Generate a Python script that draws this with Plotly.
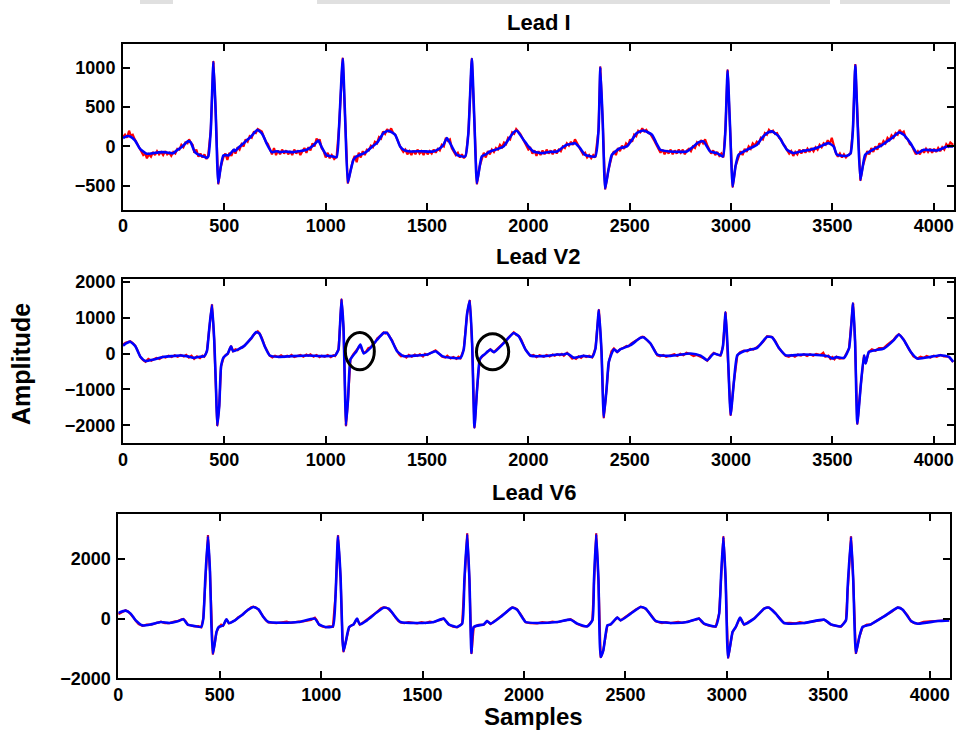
import plotly.graph_objects as go

W, H = 959, 731

# ---------------- data (sample index, amplitude) ----------------
LEAD_I_BLUE = [(0,106),(18,130),(35,127),(59,76),(84,-30),(117,-93),(150,-85),(175,-75),(199,-72),(225,-80),(248,-85),
 (270,-40),(290,-8),(310,45),(322,68),(334,51),(355,-72),(380,-114),(400,-130),(413,-144),(421,-127),(433,203),(446,1075),
 (457,458),(470,-466),(482,-263),(495,-114),(510,-110),(520,-114),(536,-72),(548,-40),(552,-60),(569,-17),(590,30),(610,76),
 (630,120),(643,161),(663,210),(684,169),(700,90),(709,34),(734,-72),(760,-60),(775,-72),(800,-65),(841,-72),(870,-60),
 (906,-42),(939,13),(964,75),(980,-8),(1005,-114),(1030,-125),(1054,-136),(1066,246),(1084,1112),(1097,288),(1109,-458),
 (1123,-305),(1137,-170),(1150,-130),(1170,-106),(1185,-90),(1203,-64),(1230,0),(1252,42),(1270,110),(1285,170),(1310,199),
 (1343,148),(1367,0),(1390,-50),(1417,-64),(1470,-60),(1532,-64),(1565,-20),(1581,21),(1598,106),(1610,60),(1622,0),
 (1647,-106),(1688,-127),(1704,170),(1721,1112),(1734,300),(1746,-466),(1760,-250),(1770,-127),(1790,-100),(1811,-64),
 (1840,-40),(1877,0),(1910,120),(1927,178),(1943,199),(1976,85),(2000,0),(2025,-64),(2067,-85),(2100,-70),(2141,-64),
 (2170,-10),(2190,21),(2210,30),(2231,42),(2255,-21),(2280,-106),(2330,-127),(2346,200),(2355,1005),(2367,300),(2379,-534),
 (2395,-300),(2412,-106),(2453,-21),(2486,0),(2510,80),(2535,170),(2568,203),(2610,148),(2630,50),(2651,-42),(2700,-64),
 (2782,-64),(2810,-10),(2839,51),(2864,64),(2897,-64),(2930,-85),(2960,-127),(2972,200),(2983,962),(2995,250),(3008,-509),
 (3022,-250),(3037,-106),(3079,-42),(3128,21),(3150,100),(3177,170),(3202,191),(3235,127),(3276,-42),(3309,-85),(3350,-60),
 (3391,-42),(3440,0),(3481,42),(3506,0),(3523,-106),(3572,-119),(3590,-85),(3601,200),(3613,1030),(3625,250),(3638,-424),
 (3650,-250),(3662,-106),(3704,-34),(3740,10),(3770,64),(3800,120),(3827,178),(3852,148),(3885,42),(3918,-85),(3951,-42),
 (4017,-51),(4066,0),(4096,0)]

LEAD_I_RED = [(0,120),(10,150),(20,110),(30,200),(38,140),(48,150),(58,90),(70,40),(80,-10),(90,-60),(100,-110),(110,-90),
 (118,-150),(128,-100),(138,-130),(148,-70),(158,-110),(168,-60),(178,-100),(188,-70),(198,-110),(208,-60),(218,-100),
 (228,-80),(238,-120),(248,-70),(258,-90),(268,-30),(278,-40),(288,20),(298,-10),(308,50),(318,40),(326,90),(334,50),
 (344,20),(352,-80),(362,-40),(372,-130),(382,-90),(392,-140),(402,-100),(412,-160),(420,-120),(433,203),(446,1085),
 (457,458),(470,-480),(482,-263),(495,-140),(505,-90),(515,-170),(525,-80),(535,-120),(545,-40),(555,-90),(565,-10),
 (575,-40),(585,30),(595,0),(605,90),(615,60),(625,130),(635,110),(645,180),(655,170),(665,220),(675,200),(685,190),
 (695,120),(705,60),(715,30),(725,-40),(735,-100),(745,-20),(755,-110),(765,-50),(775,-100),(785,-40),(795,-90),(805,-50),
 (815,-100),(825,-60),(835,-110),(845,-40),(855,-90),(865,-50),(875,-110),(885,-60),(895,-20),(905,-80),(915,-10),
 (925,-50),(935,40),(945,0),(955,100),(962,60),(970,90),(980,-20),(990,-60),(1000,-140),(1010,-80),(1020,-150),(1030,-110),
 (1042,-160),(1054,-130),(1066,246),(1084,1125),(1097,288),(1109,-470),(1123,-305),(1133,-190),(1143,-120),(1153,-200),
 (1163,-80),(1173,-140),(1183,-60),(1193,-110),(1203,-40),(1213,-50),(1223,10),(1233,-10),(1243,60),(1253,40),(1263,120),
 (1273,100),(1283,190),(1293,160),(1303,220),(1313,180),(1323,230),(1333,170),(1343,150),(1353,90),(1363,20),(1373,-30),
 (1383,-70),(1393,-40),(1403,-100),(1413,-60),(1423,-110),(1433,-50),(1443,-100),(1453,-40),(1463,-90),(1473,-60),
 (1483,-110),(1493,-50),(1503,-100),(1513,-60),(1523,-90),(1533,-40),(1543,-80),(1553,-30),(1563,-50),(1573,20),(1583,0),
 (1593,110),(1603,70),(1613,90),(1622,-20),(1632,-60),(1642,-110),(1652,-80),(1662,-140),(1672,-100),(1682,-150),
 (1692,-110),(1704,170),(1721,1120),(1734,300),(1746,-480),(1760,-250),(1770,-150),(1780,-80),(1790,-140),(1800,-60),
 (1810,-100),(1820,-40),(1830,-70),(1840,-20),(1850,-40),(1860,20),(1870,-10),(1880,50),(1890,30),(1900,110),(1910,90),
 (1920,180),(1930,160),(1940,220),(1950,190),(1960,160),(1970,110),(1980,60),(1990,20),(2000,-40),(2010,-20),(2020,-90),
 (2030,-50),(2040,-120),(2050,-60),(2060,-110),(2070,-50),(2080,-100),(2090,-40),(2100,-90),(2110,-50),(2120,-100),
 (2130,-40),(2140,-90),(2150,-40),(2160,-60),(2170,0),(2180,-20),(2190,40),(2200,10),(2210,60),(2220,20),(2230,90),
 (2240,40),(2250,10),(2260,-60),(2270,-100),(2280,-80),(2290,-140),(2300,-110),(2310,-150),(2320,-110),(2330,-140),
 (2346,200),(2355,1015),(2367,300),(2379,-545),(2395,-300),(2412,-120),(2422,-60),(2432,-110),(2442,-20),(2452,-60),
 (2462,10),(2472,-30),(2482,40),(2492,10),(2502,90),(2512,60),(2522,150),(2532,130),(2542,200),(2552,180),(2562,230),
 (2572,190),(2582,210),(2592,170),(2602,160),(2612,120),(2622,70),(2632,20),(2642,-30),(2652,-80),(2662,-40),(2672,-100),
 (2682,-50),(2692,-90),(2702,-40),(2712,-100),(2722,-50),(2732,-90),(2742,-40),(2752,-80),(2762,-40),(2772,-100),
 (2782,-50),(2792,-30),(2802,-60),(2812,0),(2822,-20),(2832,50),(2842,20),(2852,80),(2862,40),(2872,90),(2882,20),
 (2892,-40),(2902,-90),(2912,-50),(2922,-110),(2932,-70),(2942,-120),(2952,-90),(2962,-140),(2972,200),(2983,975),
 (2995,250),(3008,-520),(3022,-250),(3037,-120),(3047,-60),(3057,-110),(3067,-30),(3077,-70),(3087,0),(3097,-30),
 (3107,40),(3117,10),(3127,60),(3137,40),(3147,110),(3157,90),(3167,170),(3177,150),(3187,210),(3197,180),(3207,200),
 (3217,160),(3227,170),(3237,110),(3247,90),(3257,30),(3267,0),(3277,-50),(3287,-90),(3297,-60),(3307,-120),(3317,-70),
 (3327,-100),(3337,-40),(3347,-90),(3357,-40),(3367,-80),(3377,-30),(3387,-70),(3397,-20),(3407,-60),(3417,-10),
 (3427,-40),(3437,20),(3447,-10),(3457,40),(3467,20),(3477,80),(3487,30),(3497,110),(3507,20),(3517,-80),(3527,-130),
 (3537,-90),(3547,-140),(3557,-100),(3567,-140),(3577,-110),(3590,-90),(3601,200),(3613,1045),(3625,250),(3638,-435),
 (3650,-250),(3662,-130),(3672,-60),(3682,-100),(3692,-20),(3702,-70),(3712,0),(3722,-40),(3732,40),(3742,10),(3752,70),
 (3762,40),(3772,110),(3782,80),(3792,140),(3802,110),(3812,170),(3822,150),(3832,210),(3842,170),(3852,190),(3862,110),
 (3872,90),(3882,30),(3892,10),(3902,-50),(3912,-100),(3922,-60),(3932,-100),(3942,-40),(3952,-80),(3962,-30),(3972,-70),
 (3982,-30),(3992,-80),(4002,-30),(4012,-70),(4022,-20),(4032,-60),(4042,-10),(4052,-40),(4062,30),(4072,0),(4082,50),
 (4096,20)]

LEAD_V2_BLUE = [(0,220),(15,280),(36,330),(61,202),(86,-92),(111,-211),(152,-165),(202,-92),(250,-70),(285,-55),(320,-80),
 (351,-120),(380,-90),(401,-73),(414,64),(425,660),(439,1350),(450,385),(459,-990),(465,-2000),(475,-1450),(484,-350),
 (497,-100),(517,0),(533,202),(543,64),(566,110),(600,220),(633,430),(657,600),(674,550),(699,202),(724,-55),(765,-92),
 (831,-73),(914,-55),(980,-73),(1046,-55),(1063,110),(1070,700),(1078,1500),(1088,700),(1095,-990),(1100,-2000),
 (1110,-1300),(1122,-165),(1135,-55),(1152,64),(1171,248),(1188,0),(1221,156),(1254,386),(1286,570),(1303,570),(1328,340),
 (1352,64),(1385,-73),(1451,-55),(1501,-28),(1542,64),(1575,-73),(1616,-120),(1665,-120),(1681,110),(1698,1122),
 (1711,1470),(1723,202),(1734,-2060),(1747,-990),(1760,-165),(1772,-73),(1783,-28),(1800,60),(1813,110),(1830,37),
 (1879,294),(1928,570),(1953,478),(1986,110),(2010,-55),(2076,-73),(2142,-28),(2175,-28),(2191,0),(2208,-55),(2224,-121),
 (2273,-65),(2315,-93),(2331,140),(2348,1210),(2361,47),(2372,-1770),(2386,-978),(2397,-233),(2422,121),(2438,47),
 (2455,121),(2504,233),(2553,438),(2570,447),(2603,279),(2636,-28),(2702,-65),(2800,0),(2850,-60),(2883,-186),(2915,0),
 (2948,-47),(2960,200),(2973,1145),(2984,47),(2998,-1704),(3014,-791),(3031,-47),(3063,65),(3129,158),(3178,465),
 (3203,447),(3236,158),(3269,-47),(3359,-28),(3442,-47),(3480,-80),(3500,-140),(3520,-100),(3557,-121),(3582,140),
 (3602,1397),(3612,326),(3623,-1955),(3640,-884),(3656,-47),(3664,-279),(3680,47),(3713,93),(3754,140),(3803,372),
 (3828,531),(3853,372),(3886,47),(3919,-140),(3985,-93),(4034,-47),(4075,-93),(4096,-233)]

LEAD_V2_RED = [(0,250),(12,300),(24,320),(36,345),(48,290),(61,210),(74,60),(86,-100),(98,-180),(111,-230),(125,-150),
 (140,-200),(152,-160),(165,-120),(180,-150),(195,-90),(210,-110),(225,-60),(240,-100),(255,-50),(270,-90),(285,-40),
 (300,-80),(312,-40),(325,-110),(338,-60),(351,-150),(365,-80),(380,-130),(392,-60),(401,-90),(414,64),(425,660),
 (439,1370),(450,385),(459,-990),(465,-2020),(475,-1450),(484,-350),(497,-110),(507,-40),(517,-10),(525,80),(533,210),
 (543,64),(555,120),(566,90),(580,160),(590,170),(600,230),(615,300),(625,380),(633,420),(645,520),(657,580),(665,620),
 (674,560),(686,420),(699,210),(712,60),(724,-60),(737,-110),(750,-60),(765,-100),(780,-50),(795,-100),(810,-60),
 (820,-90),(831,-40),(845,-100),(860,-60),(875,-40),(890,-90),(905,-30),(914,-60),(925,-20),(940,-90),(955,-40),
 (970,-100),(980,-60),(995,-90),(1010,-40),(1025,-100),(1038,-50),(1046,-70),(1063,110),(1070,700),(1078,1520),
 (1088,700),(1095,-990),(1100,-2020),(1110,-1300),(1122,-165),(1135,-30),(1145,40),(1152,70),(1162,150),(1171,230),
 (1180,90),(1188,20),(1200,60),(1210,150),(1221,170),(1235,250),(1246,330),(1254,420),(1265,460),(1275,520),(1286,590),
 (1295,560),(1303,580),(1315,470),(1328,360),(1340,200),(1352,70),(1362,-20),(1372,-80),(1385,-60),(1398,-110),
 (1410,-40),(1425,-90),(1440,-30),(1451,-70),(1465,-20),(1480,-80),(1490,-10),(1501,-40),(1515,10),(1530,40),(1542,90),
 (1555,20),(1565,-40),(1575,-90),(1590,-110),(1600,-60),(1616,-140),(1630,-100),(1645,-150),(1655,-90),(1665,-130),
 (1681,110),(1698,1122),(1711,1490),(1723,202),(1734,-2080),(1747,-990),(1760,-165),(1772,-90),(1783,-20),(1792,30),
 (1800,60),(1813,120),(1822,60),(1830,40),(1845,120),(1860,180),(1870,230),(1879,300),(1890,360),(1900,430),(1912,500),
 (1920,520),(1928,590),(1940,520),(1953,490),(1965,380),(1975,240),(1986,110),(1998,20),(2010,-70),(2025,-40),
 (2040,-100),(2055,-50),(2076,-90),(2090,-40),(2105,-80),(2120,-30),(2130,-60),(2142,-20),(2155,-50),(2165,-10),
 (2175,-60),(2191,20),(2200,-40),(2208,-100),(2216,-140),(2224,-110),(2235,-150),(2248,-80),(2260,-120),(2273,-60),
 (2285,-100),(2300,-60),(2315,-110),(2331,140),(2348,1230),(2361,47),(2372,-1800),(2386,-978),(2397,-233),(2410,60),
 (2422,140),(2438,40),(2455,130),(2470,160),(2485,210),(2495,200),(2504,260),(2520,320),(2535,380),(2553,450),(2562,470),
 (2570,460),(2585,380),(2603,270),(2620,120),(2636,-50),(2650,-80),(2665,-40),(2680,-90),(2702,-60),(2720,-20),
 (2735,-70),(2750,-10),(2765,-50),(2780,20),(2800,-20),(2815,-70),(2830,-40),(2850,-90),(2865,-130),(2883,-200),
 (2900,-60),(2915,20),(2930,-30),(2948,-60),(2960,200),(2973,1160),(2984,47),(2998,-1730),(3014,-791),(3031,-60),
 (3045,40),(3063,80),(3080,60),(3095,130),(3110,110),(3129,180),(3145,250),(3160,340),(3178,480),(3190,470),(3203,460),
 (3220,330),(3236,150),(3252,40),(3269,-60),(3285,-90),(3300,-40),(3315,-90),(3330,-30),(3345,-60),(3359,-20),
 (3375,-70),(3390,-20),(3405,-60),(3420,-10),(3442,-40),(3455,20),(3465,-90),(3480,-60),(3490,-150),(3500,-100),
 (3510,-160),(3520,-90),(3535,-140),(3557,-130),(3582,140),(3602,1410),(3612,326),(3623,-1975),(3640,-884),(3656,-47),
 (3664,-279),(3680,47),(3695,120),(3713,80),(3730,150),(3754,160),(3770,240),(3790,330),(3803,390),(3815,480),(3828,540),
 (3840,470),(3853,380),(3870,200),(3886,50),(3900,-80),(3919,-140),(3935,-90),(3950,-120),(3965,-70),(3985,-110),
 (4000,-60),(4015,-90),(4034,-40),(4050,-80),(4075,-90),(4096,-240)]

LEAD_V6_BLUE = [(0,191),(36,270),(61,169),(86,-56),(119,-225),(161,-191),(210,-112),(252,-146),(293,-90),(321,-22),
 (343,-202),(376,-247),(409,-281),(419,0),(429,1349),(442,2760),(452,1574),(459,-225),(466,-1170),(475,-843),(484,-450),
 (495,-281),(517,-225),(533,-22),(545,-146),(575,-56),(608,112),(641,303),(666,393),(691,315),(715,56),(740,-112),
 (806,-135),(889,-112),(969,0),(989,-191),(1022,-281),(1058,-258),(1071,787),(1083,2770),(1096,1349),(1105,-674),
 (1110,-1090),(1121,-787),(1138,-281),(1160,-190),(1177,0),(1190,-190),(1226,-56),(1276,223),(1308,369),(1333,335),
 (1366,56),(1391,-112),(1473,-145),(1555,-112),(1604,0),(1629,-190),(1670,-279),(1695,-168),(1706,1285),(1720,2830),
 (1731,1300),(1741,-1150),(1752,-279),(1802,-190),(1818,-78),(1835,-168),(1884,56),(1942,369),(1966,302),(2008,-112),
 (2065,-145),(2164,-112),(2230,-34),(2263,-168),(2312,-257),(2337,-56),(2345,1300),(2356,2830),(2367,1300),(2378,-1285),
 (2391,-1061),(2411,-223),(2427,-190),(2460,34),(2476,-56),(2526,168),(2575,391),(2600,335),(2649,-78),(2723,-145),
 (2806,-112),(2863,0),(2888,-168),(2945,-257),(2962,168),(2972,1500),(2983,2733),(2994,1300),(3006,-1307),(3028,-447),
 (3044,-279),(3065,34),(3085,-190),(3134,0),(3184,335),(3208,369),(3241,168),(3282,-145),(3381,-145),(3480,-34),
 (3513,-190),(3562,-257),(3587,-56),(3595,1000),(3612,2733),(3623,1300),(3636,-1150),(3653,-614),(3669,-279),(3710,-190),
 (3776,78),(3842,369),(3867,302),(3908,-78),(3941,-168),(4040,-78),(4096,-56)]

LEAD_V6_RED = [(0,150),(20,230),(36,280),(50,230),(61,160),(75,40),(86,-70),(100,-180),(119,-240),(140,-200),(161,-200),
 (185,-140),(210,-100),(230,-150),(252,-150),(275,-100),(293,-80),(310,-30),(321,-10),(333,-90),(343,-210),(360,-230),
 (376,-260),(395,-250),(409,-290),(419,0),(429,1349),(442,2800),(452,1574),(459,-225),(466,-1200),(475,-843),(484,-450),
 (495,-300),(507,-200),(517,-240),(533,-22),(545,-160),(560,-100),(575,-60),(590,40),(608,110),(625,220),(641,310),
 (655,380),(666,400),(680,370),(691,300),(703,180),(715,40),(728,-60),(740,-130),(760,-130),(780,-150),(806,-120),
 (830,-100),(850,-140),(870,-110),(889,-100),(910,-90),(930,-60),(950,-40),(969,30),(979,-60),(989,-200),(1005,-260),
 (1022,-290),(1040,-260),(1058,-270),(1071,787),(1083,2800),(1096,1349),(1105,-674),(1110,-1120),(1121,-787),(1138,-290),
 (1150,-220),(1160,-200),(1177,0),(1190,-200),(1205,-130),(1226,-40),(1250,90),(1276,230),(1295,350),(1308,380),
 (1320,370),(1333,320),(1350,200),(1366,40),(1380,-80),(1391,-130),(1410,-150),(1430,-120),(1450,-150),(1473,-160),
 (1495,-120),(1515,-150),(1535,-100),(1555,-120),(1575,-60),(1590,-40),(1604,10),(1615,-80),(1629,-200),(1650,-270),
 (1670,-290),(1695,-170),(1706,1285),(1720,2860),(1731,1300),(1741,-1180),(1752,-290),(1775,-210),(1802,-200),(1818,-78),
 (1835,-180),(1860,-60),(1884,60),(1910,200),(1930,330),(1942,380),(1955,360),(1966,310),(1985,130),(2008,-120),
 (2030,-150),(2065,-160),(2090,-120),(2115,-140),(2140,-100),(2164,-120),(2190,-80),(2210,-60),(2230,-20),(2245,-80),
 (2263,-180),(2290,-250),(2312,-260),(2337,-60),(2345,1300),(2356,2860),(2367,1300),(2378,-1310),(2391,-1061),(2411,-230),
 (2427,-200),(2445,-60),(2460,40),(2476,-60),(2500,60),(2526,170),(2550,300),(2575,400),(2590,370),(2600,330),(2625,130),
 (2649,-90),(2680,-150),(2700,-120),(2723,-150),(2760,-110),(2780,-140),(2806,-110),(2830,-60),(2850,-30),(2863,10),
 (2875,-100),(2888,-180),(2915,-240),(2945,-270),(2962,168),(2972,1500),(2983,2760),(2994,1300),(3006,-1330),(3028,-447),
 (3044,-290),(3065,34),(3085,-200),(3110,-90),(3134,0),(3160,170),(3184,340),(3200,380),(3208,375),(3225,290),(3241,160),
 (3260,10),(3282,-150),(3310,-140),(3340,-160),(3360,-120),(3381,-150),(3410,-110),(3440,-90),(3460,-60),(3480,-30),
 (3495,-100),(3513,-200),(3540,-240),(3562,-270),(3587,-56),(3595,1000),(3612,2760),(3623,1300),(3636,-1180),(3653,-614),
 (3669,-290),(3690,-200),(3710,-190),(3740,-60),(3776,80),(3810,220),(3842,380),(3855,360),(3867,300),(3890,120),
 (3908,-90),(3925,-150),(3941,-170),(3970,-110),(4000,-90),(4040,-80),(4070,-60),(4096,-60)]

PANEL_TITLES = ["Lead I", "Lead V2", "Lead V6"]
X_TICKS = [0, 500, 1000, 1500, 2000, 2500, 3000, 3500, 4000]
Y_TICKS = [[-500, 0, 500, 1000], [-2000, -1000, 0, 1000, 2000], [-2000, 0, 2000]]
Y_RANGES = [[-800, 1300], [-2500, 2075], [-2000, 3500]]
X_RANGE = [0, 4100]
# circled regions in Lead V2: (x0, x1, y0, y1)
CIRCLES = [(1097, 1240, -455, 587), (1744, 1903, -455, 550)]
X_LABEL = "Samples"
Y_LABEL = "Amplitude"

# ---------------- layout geometry (pixels) ----------------
PLOT_BOXES = [  # left, right, top, bottom
    (123, 954, 44, 209.5),
    (123, 954, 279, 443.3),
    (118.3, 950, 514.3, 678.3),
]
TITLE_POS = [(538.5, 22), (538, 256), (534, 492)]

FONT = "Liberation Sans, Arial, Helvetica, sans-serif"


def px(x):
    return x / W


def py(y):
    return 1 - y / H


def unzip(points):
    xs, ys = zip(*points)
    return list(xs), list(ys)


fig = go.Figure()
series = [(LEAD_I_RED, LEAD_I_BLUE), (LEAD_V2_RED, LEAD_V2_BLUE), (LEAD_V6_RED, LEAD_V6_BLUE)]
for i, (red, blue) in enumerate(series):
    sfx = "" if i == 0 else str(i + 1)
    rx, ry = unzip(red)
    bx, by = unzip(blue)
    fig.add_trace(go.Scatter(x=rx, y=ry, mode="lines", line=dict(color="#ff0000", width=2.2),
                             xaxis="x" + sfx, yaxis="y" + sfx, showlegend=False, hoverinfo="skip"))
    fig.add_trace(go.Scatter(x=bx, y=by, mode="lines",
                             line=dict(color="#0000ff", width=2.6, shape="spline", smoothing=0.5),
                             xaxis="x" + sfx, yaxis="y" + sfx, showlegend=False, hoverinfo="skip"))

tickfont = dict(family=FONT, size=18, color="black", weight="bold")
layout = dict(
    width=W, height=H, autosize=False,
    margin=dict(l=0, r=0, t=0, b=0, pad=0),
    paper_bgcolor="white", plot_bgcolor="white",
    showlegend=False,
)
for i, (l, r, t, b) in enumerate(PLOT_BOXES):
    sfx = "" if i == 0 else str(i + 1)
    common = dict(showline=True, linecolor="black", linewidth=2, mirror="ticks",
                  ticks="inside", ticklen=7, tickwidth=2, tickcolor="black",
                  showgrid=False, zeroline=False, tickfont=tickfont, automargin=False)
    layout["xaxis" + sfx] = dict(common, domain=[px(l), px(r)], range=X_RANGE, tickvals=X_TICKS,
                                 anchor="y" + sfx, ticklabelstandoff=-1)
    layout["yaxis" + sfx] = dict(common, domain=[py(b), py(t)], range=Y_RANGES[i], tickvals=Y_TICKS[i],
                                 anchor="x" + sfx, ticklabelstandoff=2)

annotations = []
for (cx, cy), title in zip(TITLE_POS, PANEL_TITLES):
    annotations.append(dict(text=title, x=px(cx), y=py(cy), xref="paper", yref="paper", showarrow=False,
                            xanchor="center", yanchor="middle",
                            font=dict(family=FONT, size=22, color="black", weight="bold")))
annotations.append(dict(text=X_LABEL, x=px(533), y=py(716.5), xref="paper", yref="paper", showarrow=False,
                        xanchor="center", yanchor="middle",
                        font=dict(family=FONT, size=24, color="black", weight="bold")))
annotations.append(dict(text=Y_LABEL, x=px(21), y=py(364), xref="paper", yref="paper", showarrow=False,
                        xanchor="center", yanchor="middle", textangle=-90,
                        font=dict(family=FONT, size=25, color="black", weight="bold")))
layout["annotations"] = annotations

shapes = []
for (x0, x1, y0, y1) in CIRCLES:
    shapes.append(dict(type="circle", xref="x2", yref="y2", x0=x0, x1=x1, y0=y0, y1=y1,
                       line=dict(color="black", width=3)))
# faint grey strip at the very top of the scanned page
for (a, b) in [(140, 173), (317, 830), (840, 950)]:
    shapes.append(dict(type="rect", xref="paper", yref="paper", x0=px(a), x1=px(b), y0=py(4), y1=1,
                       fillcolor="#e0e0e0", line=dict(width=0), layer="below"))
layout["shapes"] = shapes

fig.update_layout(**layout)
fig.write_html("out.html")
